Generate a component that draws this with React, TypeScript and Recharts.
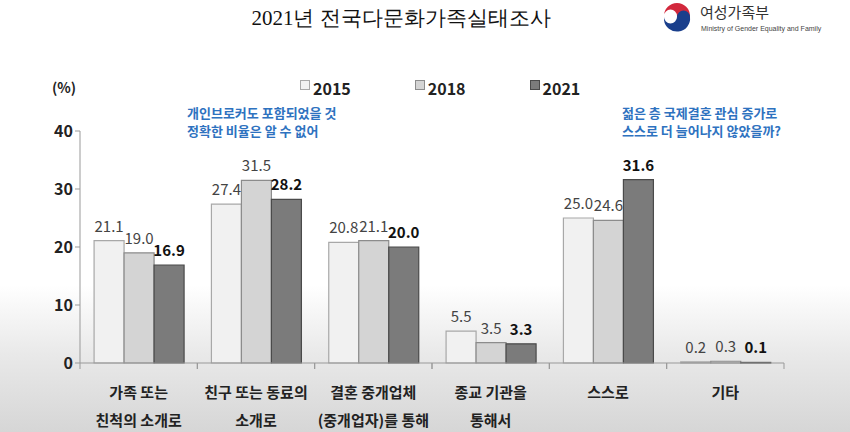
import { BarChart, Bar, XAxis, YAxis, LabelList } from 'recharts';

const categories = [
    ['가족 또는', '친척의 소개로'],
    ['친구 또는 동료의', '소개로'],
    ['결혼 중개업체', '(중개업자)를 통해'],
    ['종교 기관을', '통해서'],
    ['스스로'],
    ['기타'],
];
const y2015 = [21.1, 27.4, 20.8, 5.5, 25.0, 0.2];
const y2018 = [19.0, 31.5, 21.1, 3.5, 24.6, 0.3];
const y2021 = [16.9, 28.2, 20.0, 3.3, 31.6, 0.1];
const yTicks = [0, 10, 20, 30, 40];
const noteLeft = ['개인브로커도 포함되었을 것', '정확한 비율은 알 수 없어'];
const noteRight = ['젊은 층 국제결혼 관심 증가로', '스스로 더 늘어나지 않았을까?'];

const data = categories.map((c, i) => ({
    name: c.join('\n'),
    v2015: y2015[i],
    v2018: y2018[i],
    v2021: y2021[i],
}));

const W = 850;
const H = 432;
const M = { top: 131, right: 66, bottom: 9, left: 20 };
const YW = 60;
const band = (W - M.left - YW - M.right) / categories.length;
const KR = '"Noto Sans CJK KR", "Noto Sans", sans-serif';

const series = [
    { key: 'v2015', label: '2015', fill: '#f1f1f1', stroke: '#a8a8a8', bold: false },
    { key: 'v2018', label: '2018', fill: '#d4d4d4', stroke: '#8c8c8c', bold: false },
    { key: 'v2021', label: '2021', fill: '#7b7b7b', stroke: '#4a4a4a', bold: true },
];

function CatTick({ x, y, payload }: any) {
    const lines = String(payload.value).split('\n');
    return (
        <g>
            <line x1={x - band / 2} y1={y - 8} x2={x - band / 2} y2={y - 2} stroke="#999" />
            <line x1={x + band / 2} y1={y - 8} x2={x + band / 2} y2={y - 2} stroke="#999" />
            {lines.map((l, i) => (
                <text key={i} x={x} y={y + 27 + i * 28} textAnchor="middle" fontFamily={KR}
                    fontSize={15} fontWeight={700} fill="#222">{l}</text>
            ))}
        </g>
    );
}

function LegendBox() {
    return (
        <div style={{ position: 'absolute', left: 300, top: 76, display: 'flex', fontFamily: KR, fontWeight: 700, fontSize: 16, color: '#222' }}>
            {series.map((s, i) => (
                <div key={s.key} style={{ display: 'flex', alignItems: 'center', marginRight: i < 2 ? 64 : 0 }}>
                    <span style={{ width: 8, height: 8, background: s.fill, border: `1.5px solid ${s.stroke}`, marginRight: 3, marginTop: -6 }} />
                    <span>{s.label}</span>
                </div>
            ))}
        </div>
    );
}

const note = { position: 'absolute' as const, fontFamily: KR, fontSize: 13, fontWeight: 700, color: '#2e72bf', lineHeight: '16px', whiteSpace: 'nowrap' as const };

function Note({ lines, left, top }: { lines: string[], left: number, top: number }) {
    return <>
        {lines.map((l, i) => (
            <div key={i} style={{ ...note, left, top: top + i * 18 }}>{l}</div>
        ))}
    </>;
}

export default function App() {
    return (
        <div style={{
            position: 'absolute', left: 0, top: 0, width: W, height: H, overflow: 'hidden',
            background: 'linear-gradient(to bottom, #ffffff 0%, #ffffff 66%, #e9e9e9 82%, #d6d6d6 100%)',
        }}>
            <div style={{ position: 'absolute', left: 0, width: 802, top: 4, textAlign: 'center', fontFamily: '"Liberation Serif", serif', fontSize: 21, color: '#111' }}>
                2021년 전국다문화가족실태조사
            </div>
            <svg style={{ position: 'absolute', left: 661, top: 3 }} width={32} height={32} viewBox="0 0 32 32">
                <circle cx={16} cy={16} r={15} fill="#fff" />
                <path d="M3 13 A13 13 0 0 1 29 13 A6.5 6.5 0 0 1 16 13 A6.5 6.5 0 0 0 3 13 Z" fill="#d2283c" />
                <path d="M3 14 A6.5 6.5 0 0 0 16 14 A6.5 6.5 0 0 1 29 14 A13 13 0 0 1 3 17 Z" fill="#1a3f8c" />
            </svg>
            <div style={{ position: 'absolute', left: 700, top: 2, fontFamily: KR, fontSize: 15, lineHeight: '20px', color: '#333' }}>여성가족부</div>
            <div style={{ position: 'absolute', left: 701, top: 24, fontFamily: '"Liberation Sans", sans-serif', fontSize: 7, lineHeight: '9px', color: '#444' }}>Ministry of Gender Equality and Family</div>
            <div style={{ position: 'absolute', left: 52, top: 77, fontFamily: KR, fontSize: 14, fontWeight: 700, color: '#222' }}>(%)</div>
            <Note lines={noteLeft} left={187} top={105} />
            <Note lines={noteRight} left={622} top={105} />
            <LegendBox />
            <div style={{ position: 'absolute', left: 0, top: 0 }}>
                <BarChart width={W} height={H} data={data} margin={M} barCategoryGap="12%" barGap={0}>
                    <XAxis dataKey="name" tick={<CatTick />} tickLine={false} axisLine={{ stroke: '#999' }} height={60} interval={0} />
                    <YAxis domain={[0, 40]} ticks={yTicks} width={YW} axisLine={{ stroke: '#999' }} tickLine={{ stroke: '#999' }}
                        tickSize={5} tick={{ fontFamily: KR, fontSize: 16, fontWeight: 700, fill: '#222' }} />
                    {series.map(s => (
                        <Bar key={s.key} dataKey={s.key} name={s.label} fill={s.fill} stroke={s.stroke} strokeWidth={1.2} isAnimationActive={false}>
                            <LabelList dataKey={s.key} position="top" offset={9}
                                formatter={(v: any) => Number(v).toFixed(1)}
                                style={{ fontFamily: KR, fontSize: 15, fontWeight: s.bold ? 700 : 400, fill: s.bold ? '#111' : '#444' }} />
                        </Bar>
                    ))}
                </BarChart>
            </div>
        </div>
    );
}
